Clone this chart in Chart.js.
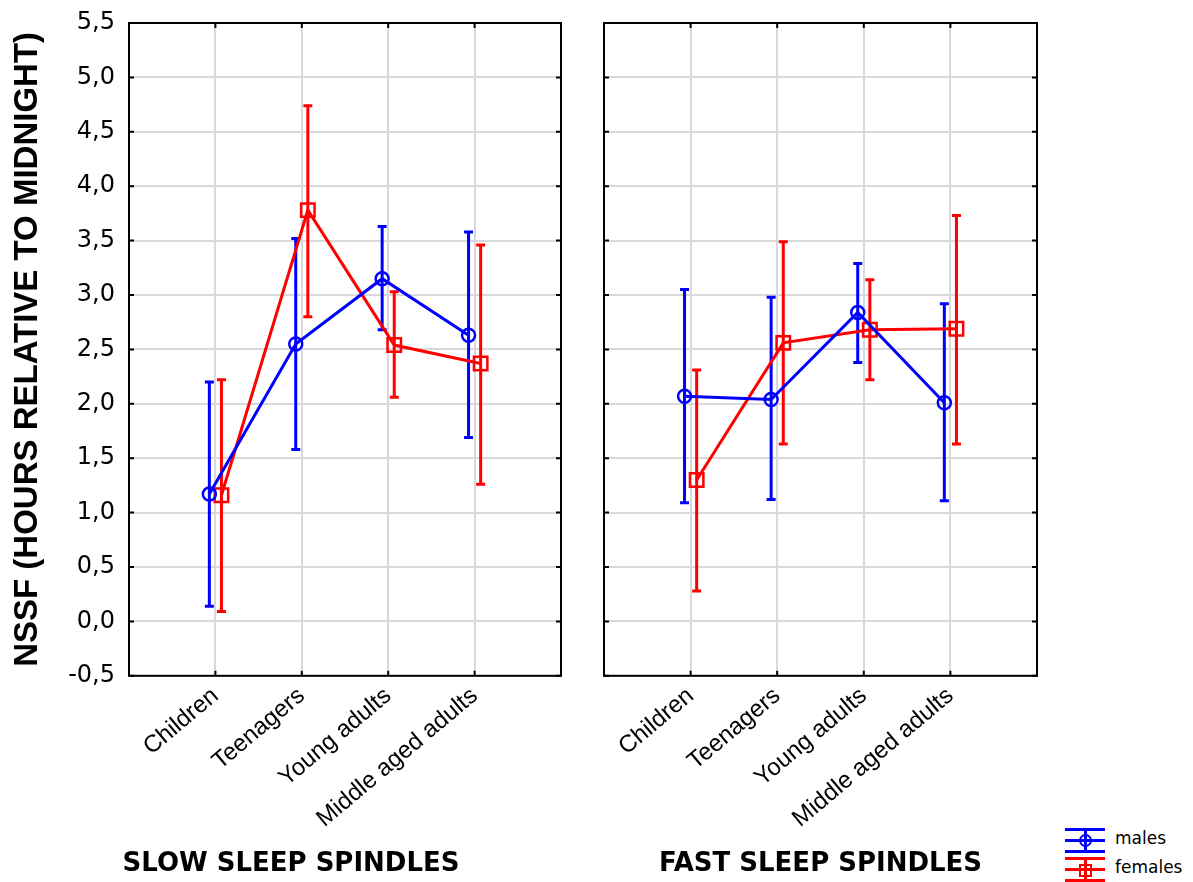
<!DOCTYPE html>
<html>
<head>
<meta charset="utf-8">
<script src="https://cdn.jsdelivr.net/npm/chart.js@4.4.0/dist/chart.umd.min.js"></script>
<style>
  html, body { margin: 0; padding: 0; background: #fff; }
  #wrap { position: relative; width: 1193px; height: 882px; overflow: hidden; background: #fff; }
  #c1 { position: absolute; left: 0; top: 0; }
  #c2 { position: absolute; left: 582px; top: 0; }
  .bar { position: absolute; height: 3px; }
  .vbar { position: absolute; width: 3px; }
  .lgtext { position: absolute; font-family: 'DejaVu Sans', sans-serif; font-size: 17px; color: #000; line-height: 20px; }
</style>
</head>
<body>
<div id="wrap">
  <canvas id="c1" width="582" height="882"></canvas>
  <canvas id="c2" width="478" height="882"></canvas>
  <!-- legend -->
  <div class="bar" style="left:1065px;top:828px;width:40px;background:#0000ff"></div>
  <div class="bar" style="left:1065px;top:839px;width:40px;background:#0000ff"></div>
  <div class="bar" style="left:1065px;top:850px;width:40px;background:#0000ff"></div>
  <div class="vbar" style="left:1084px;top:828px;height:25px;background:#0000ff"></div>
  <div style="position:absolute;left:1079px;top:834px;width:9px;height:9px;border:2.5px solid #0000ff;border-radius:50%"></div>
  <div class="lgtext" style="left:1115px;top:828px">males</div>
  <div class="bar" style="left:1065px;top:857px;width:40px;background:#ff0000"></div>
  <div class="bar" style="left:1065px;top:868px;width:40px;background:#ff0000"></div>
  <div class="bar" style="left:1065px;top:879px;width:40px;background:#ff0000"></div>
  <div class="vbar" style="left:1084px;top:857px;height:25px;background:#ff0000"></div>
  <div style="position:absolute;left:1079px;top:864px;width:9px;height:9px;border:2.5px solid #ff0000"></div>
  <div class="lgtext" style="left:1115px;top:857px">females</div>
</div>
<script>
// ---- data ----
const categories = ['Children', 'Teenagers', 'Young adults', 'Middle aged adults'];
const yTickValues = [-0.5, 0, 0.5, 1, 1.5, 2, 2.5, 3, 3.5, 4, 4.5, 5, 5.5];

const slowMalesMean   = [1.17, 2.55, 3.15, 2.63];
const slowMalesLow    = [0.14, 1.58, 2.68, 1.69];
const slowMalesHigh   = [2.20, 3.52, 3.63, 3.58];
const slowFemalesMean = [1.16, 3.78, 2.54, 2.37];
const slowFemalesLow  = [0.09, 2.80, 2.06, 1.26];
const slowFemalesHigh = [2.22, 4.74, 3.03, 3.46];

const fastMalesMean   = [2.07, 2.04, 2.84, 2.01];
const fastMalesLow    = [1.09, 1.12, 2.38, 1.11];
const fastMalesHigh   = [3.05, 2.98, 3.29, 2.92];
const fastFemalesMean = [1.30, 2.56, 2.68, 2.69];
const fastFemalesLow  = [0.28, 1.63, 2.22, 1.63];
const fastFemalesHigh = [2.31, 3.49, 3.14, 3.73];

// ---- style ----
const BLUE = '#0000ff', RED = '#ff0000', GRID = '#d9d9d9';
const MALE_OFF = -0.07, FEMALE_OFF = 0.07;

function fmt(v) { return (Math.round(v * 10) / 10).toFixed(1).replace('.', ','); }

function pts(arr, off) { return arr.map((v, i) => ({ x: i + 1 + off, y: v })); }

function errorBarPlugin(series) {
  return {
    id: 'errorBars',
    beforeDatasetsDraw(chart) {
      const { ctx, scales: { x, y } } = chart;
      series.forEach(s => {
        ctx.save();
        ctx.strokeStyle = s.color;
        ctx.lineWidth = 3;
        s.low.forEach((lo, i) => {
          const px = x.getPixelForValue(i + 1 + s.offset);
          const pl = y.getPixelForValue(lo);
          const ph = y.getPixelForValue(s.high[i]);
          ctx.beginPath();
          ctx.moveTo(px, pl); ctx.lineTo(px, ph);
          ctx.moveTo(px - 4.5, pl); ctx.lineTo(px + 4.5, pl);
          ctx.moveTo(px - 4.5, ph); ctx.lineTo(px + 4.5, ph);
          ctx.stroke();
        });
        ctx.restore();
      });
    }
  };
}

const framePlugin = {
  id: 'frame',
  afterDraw(chart) {
    const { ctx, chartArea: a, scales: { x, y } } = chart;
    ctx.save();
    ctx.strokeStyle = '#000';
    ctx.lineWidth = 2;
    ctx.strokeRect(a.left, a.top, a.right - a.left, a.bottom - a.top);
    ctx.beginPath();
    yTickValues.forEach(v => {
      const py = y.getPixelForValue(v);
      ctx.moveTo(a.left, py); ctx.lineTo(a.left + 5, py);
      ctx.moveTo(a.right, py); ctx.lineTo(a.right - 5, py);
    });
    categories.forEach((c, i) => {
      const px = x.getPixelForValue(i + 1);
      ctx.moveTo(px, a.top); ctx.lineTo(px, a.top + 5);
      ctx.moveTo(px, a.bottom); ctx.lineTo(px, a.bottom - 5);
    });
    ctx.stroke();
    ctx.restore();
  }
};

function makeDatasets(mMean, fMean) {
  return [
    { label: 'males', data: pts(mMean, MALE_OFF), borderColor: BLUE, borderWidth: 3,
      pointStyle: 'circle', pointRadius: 6.5, pointBorderWidth: 2.5, pointBorderColor: BLUE,
      pointBackgroundColor: 'rgba(0,0,0,0)', tension: 0, fill: false },
    { label: 'females', data: pts(fMean, FEMALE_OFF), borderColor: RED, borderWidth: 3,
      pointStyle: 'rect', pointRadius: 9.5, pointBorderWidth: 2.5, pointBorderColor: RED,
      pointBackgroundColor: 'rgba(0,0,0,0)', tension: 0, fill: false }
  ];
}

function makeOptions(titleText, withYLabels, padLeft, padRight, yWidth) {
  return {
    responsive: false,
    animation: false,
    layout: { padding: { left: padLeft, right: padRight, top: 23, bottom: 0 } },
    plugins: {
      legend: { display: false },
      tooltip: { enabled: false },
      title: {
        display: true, text: titleText, position: 'bottom', color: '#000',
        font: { family: 'DejaVu Sans', size: 26, weight: 'bold' },
        padding: { top: 0, bottom: 2 }
      }
    },
    scales: {
      x: {
        type: 'linear', min: 0, max: 5,
        afterFit: s => { s.height = 173; s.paddingLeft = 0; s.paddingRight = 0; },
        border: { display: false },
        grid: {
          drawTicks: false, lineWidth: 2,
          color: c => (c.tick && (c.tick.value === 0 || c.tick.value === 5)) ? 'rgba(0,0,0,0)' : GRID
        },
        ticks: {
          stepSize: 1, autoSkip: false, minRotation: 40, maxRotation: 40, padding: 6,
          color: '#000', font: { family: 'Liberation Sans', size: 24 },
          callback: v => (categories[v - 1] !== undefined ? categories[v - 1] : '')
        }
      },
      y: {
        min: -0.5, max: 5.5,
        afterFit: s => { s.width = yWidth; s.paddingTop = 0; s.paddingBottom = 0; },
        border: { display: false },
        grid: { drawTicks: false, lineWidth: 2, color: GRID },
        ticks: {
          display: withYLabels, stepSize: 0.5, padding: 14, color: '#000',
          font: { family: 'DejaVu Sans', size: 24 },
          callback: v => fmt(v)
        },
        title: {
          display: withYLabels, text: 'NSSF (HOURS RELATIVE TO MIDNIGHT)', color: '#000',
          font: { family: 'Liberation Sans', size: 33, weight: 'bold', lineHeight: '14px' },
          padding: { top: 0, bottom: 0 }
        }
      }
    }
  };
}

new Chart(document.getElementById('c1'), {
  type: 'line',
  data: { datasets: makeDatasets(slowMalesMean, slowFemalesMean) },
  options: makeOptions('SLOW SLEEP SPINDLES', true, 21, 21, 108),
  plugins: [errorBarPlugin([
    { color: BLUE, offset: MALE_OFF, low: slowMalesLow, high: slowMalesHigh },
    { color: RED, offset: FEMALE_OFF, low: slowFemalesLow, high: slowFemalesHigh }
  ]), framePlugin]
});

new Chart(document.getElementById('c2'), {
  type: 'line',
  data: { datasets: makeDatasets(fastMalesMean, fastFemalesMean) },
  options: makeOptions('FAST SLEEP SPINDLES', false, 22, 23, 0),
  plugins: [errorBarPlugin([
    { color: BLUE, offset: MALE_OFF, low: fastMalesLow, high: fastMalesHigh },
    { color: RED, offset: FEMALE_OFF, low: fastFemalesLow, high: fastFemalesHigh }
  ]), framePlugin]
});
</script>
</body>
</html>
